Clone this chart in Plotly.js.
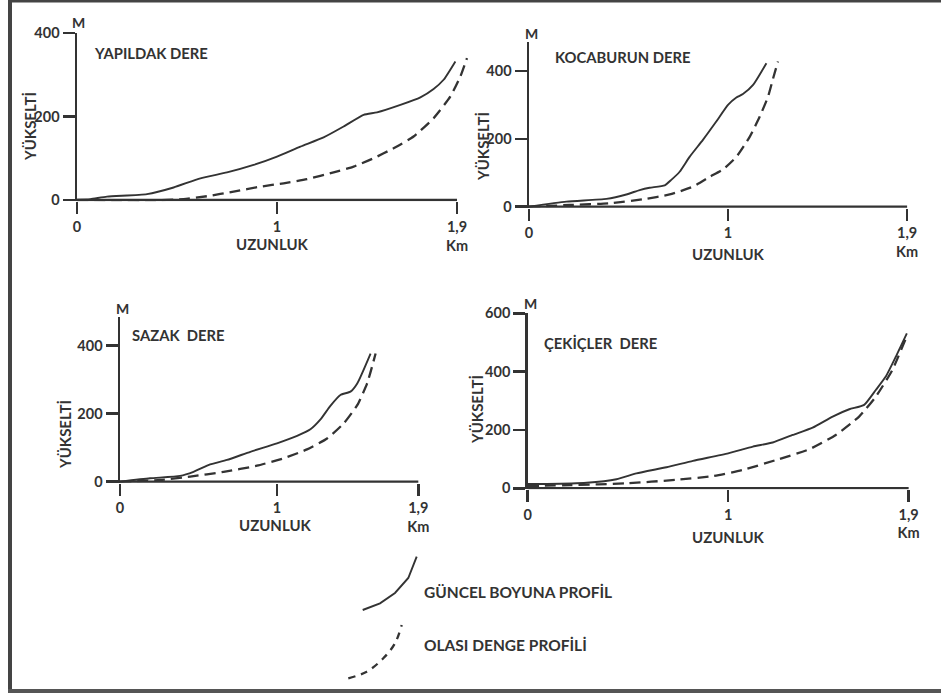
<!DOCTYPE html>
<html>
<head>
<meta charset="utf-8">
<script src="https://cdn.plot.ly/plotly-3.0.1.min.js"></script>
<style>html,body{margin:0;padding:0;background:#fff;}#chart{width:941px;height:693px;}</style>
</head>
<body>
<div id="chart"></div>
<script>
// ---------- DATA (km, m) ----------
const yapildakSolidX = [0, 0.067, 0.15, 0.35, 0.483, 0.617, 0.75, 0.883, 1.0, 1.117, 1.233, 1.333, 1.433, 1.5, 1.617, 1.717, 1.783, 1.833, 1.892];
const yapildakSolidY = [0, 2, 8, 14, 30, 52, 66, 84, 104, 128, 150, 176, 204, 210, 228, 246, 266, 288, 332];
const yapildakDashX = [0, 0.2, 0.367, 0.533, 0.65, 0.783, 0.917, 1.033, 1.15, 1.283, 1.383, 1.483, 1.583, 1.683, 1.783, 1.867, 1.917, 1.95];
const yapildakDashY = [0, -1, -1, 2, 9, 20, 32, 40, 50, 66, 80, 100, 124, 152, 196, 248, 296, 340];

const kocaburunSolidX = [0, 0.188, 0.389, 0.489, 0.556, 0.606, 0.682, 0.715, 0.757, 0.807, 0.874, 0.941, 1.0, 1.042, 1.075, 1.126, 1.193];
const kocaburunSolidY = [0, 15, 23, 36, 49, 56, 63, 79, 103, 147, 197, 251, 300, 322, 332, 359, 423];
const kocaburunDashX = [0, 0.204, 0.405, 0.573, 0.707, 0.824, 0.908, 0.975, 1.042, 1.109, 1.159, 1.201, 1.229, 1.251];
const kocaburunDashY = [0, 5, 10, 22, 36, 59, 88, 110, 147, 206, 265, 324, 383, 428];

const sazakSolidX = [0, 0.191, 0.383, 0.468, 0.574, 0.681, 0.83, 1.0, 1.128, 1.213, 1.277, 1.34, 1.404, 1.468, 1.511, 1.596];
const sazakSolidY = [0, 10, 17, 29, 51, 64, 88, 113, 135, 154, 183, 223, 255, 265, 289, 377];
const sazakDashX = [0, 0.255, 0.447, 0.66, 0.872, 1.043, 1.191, 1.319, 1.426, 1.511, 1.574, 1.628];
const sazakDashY = [0, 5, 15, 29, 47, 69, 95, 127, 172, 225, 289, 377];

const cekiclerSolidX = [0, 0.095, 0.294, 0.443, 0.542, 0.692, 0.824, 1.0, 1.123, 1.222, 1.322, 1.421, 1.521, 1.604, 1.678, 1.736, 1.786, 1.836, 1.891];
const cekiclerSolidY = [15, 15, 19, 31, 51, 72, 94, 120, 143, 157, 183, 208, 246, 271, 286, 337, 383, 451, 531];
const cekiclerDashX = [0, 0.211, 0.493, 0.741, 0.924, 1.073, 1.239, 1.405, 1.537, 1.653, 1.736, 1.819, 1.886];
const cekiclerDashY = [8, 11, 17, 29, 42, 63, 97, 134, 183, 246, 314, 406, 514];

// legend sample strokes (in page pixel space of a hidden axis)
const legendSolidX = [362.7, 380, 395, 408.3, 416.7];
const legendSolidY = [610, 603.3, 593, 578, 556.7];
const legendDashX = [348.3, 366.7, 383.3, 395, 401.7];
const legendDashY = [678.3, 671.7, 658.3, 643.3, 625];

const panelTitles = ["YAPILDAK DERE", "KOCABURUN DERE", "SAZAK&nbsp; DERE", "ÇEKİÇLER&nbsp; DERE"];
const xTickVals = [0, 1, 1.9];
const xTickText = ["0", "1", "1,9<br>Km"];
const yTickVals14 = [0, 200, 400];
const yTickVals4 = [0, 200, 400, 600];
const xAxisLabel = "UZUNLUK";
const yAxisLabel = "YÜKSELTİ";
const unitLabel = "M";
const legendLabels = ["GÜNCEL BOYUNA PROFİL", "OLASI DENGE PROFİLİ"];

// ---------- LAYOUT ----------
const W = 941, H = 693;
const INK = '#333333';
const FONT = 'Lato, "DejaVu Sans", sans-serif';

function domains(x0px, kmPx, xMax, y0px, mPx, yMin, yMax) {
  return {
    x: [x0px / W, (x0px + kmPx * xMax) / W],
    y: [1 - (y0px - yMin * mPx) / H, 1 - (y0px - yMax * mPx) / H],
    xr: [0, xMax], yr: [yMin, yMax]
  };
}
const panels = [
  domains(77, 200, 2.0, 200, 167 / 400, -3, 400),
  domains(529, 199, 1.95, 206.7, 135.7 / 400, -3, 486),
  domains(120, 157, 1.95, 481.7, 136 / 400, -3, 485),
  domains(527.7, 200.5, 1.93, 488.3, 175 / 600, -3, 600)
];

const solid = {color: INK, width: 1.9, shape: 'spline', smoothing: 0.5};
const dashed = {color: INK, width: 2.3, dash: '11px,6px', shape: 'spline', smoothing: 0.5};

const series = [
  [yapildakSolidX, yapildakSolidY, yapildakDashX, yapildakDashY],
  [kocaburunSolidX, kocaburunSolidY, kocaburunDashX, kocaburunDashY],
  [sazakSolidX, sazakSolidY, sazakDashX, sazakDashY],
  [cekiclerSolidX, cekiclerSolidY, cekiclerDashX, cekiclerDashY]
];

const traces = [];
series.forEach((s, i) => {
  const xa = 'x' + (i ? i + 1 : ''), ya = 'y' + (i ? i + 1 : '');
  traces.push({x: s[0], y: s[1], type: 'scatter', mode: 'lines', line: solid, xaxis: xa, yaxis: ya, hoverinfo: 'skip'});
  traces.push({x: s[2], y: s[3], type: 'scatter', mode: 'lines', line: dashed, xaxis: xa, yaxis: ya, hoverinfo: 'skip'});
});
traces.push({x: legendSolidX, y: legendSolidY, type: 'scatter', mode: 'lines', line: {color: INK, width: 1.9}, xaxis: 'x5', yaxis: 'y5', hoverinfo: 'skip'});
traces.push({x: legendDashX, y: legendDashY, type: 'scatter', mode: 'lines', line: {color: INK, width: 2.3, dash: '7px,6px', shape: 'spline'}, xaxis: 'x5', yaxis: 'y5', hoverinfo: 'skip'});

const tickFont = {family: FONT, size: 14.5, color: INK, weight: 'bold'};
const layout = {
  width: W, height: H,
  margin: {l: 0, r: 0, t: 0, b: 0},
  paper_bgcolor: '#fff', plot_bgcolor: 'rgba(0,0,0,0)',
  showlegend: false,
  annotations: [], shapes: []
};

const labelPos = [
  {m: [78, 22], t: [92, 53], ux: [272, 244], yk: [30, 127]},
  {m: [531, 33], t: [553, 57], ux: [728, 254], yk: [483, 147]},
  {m: [122, 308], t: [130, 335], ux: [275, 525], yk: [65, 435]},
  {m: [530, 303], t: [542, 343], ux: [728, 537], yk: [477, 410]}
];

panels.forEach((p, i) => {
  const n = i ? i + 1 : '';
  layout['xaxis' + n] = {
    domain: p.x, range: p.xr, anchor: 'y' + n,
    showline: false, zeroline: false, showgrid: false,
    ticks: 'outside', ticklen: 12, tickwidth: 2.5, tickcolor: INK,
    tickvals: xTickVals, ticktext: xTickText, tickfont: tickFont,
    fixedrange: true
  };
  layout['yaxis' + n] = {
    domain: p.y, range: p.yr, anchor: 'x' + n,
    showline: true, linewidth: 2.5, linecolor: INK,
    zeroline: false, showgrid: false,
    ticks: 'outside', ticklen: 12, tickwidth: 2.5, tickcolor: INK,
    tickvals: i === 3 ? yTickVals4 : yTickVals14, tickfont: tickFont, ticklabelstandoff: 0,
    fixedrange: true
  };
  layout.shapes.push({type: 'line', xref: 'x' + n, yref: 'y' + n, x0: 0, x1: 1.9, y0: 0, y1: 0, line: {color: INK, width: 2.5}});
  const L = labelPos[i];
  const bf = (sz) => ({family: FONT, size: sz, color: INK, weight: 'bold'});
  layout.annotations.push(
    {xref: 'paper', yref: 'paper', x: L.m[0] / W, y: 1 - L.m[1] / H, text: unitLabel, showarrow: false, xanchor: 'center', yanchor: 'middle', font: bf(14)},
    {xref: 'paper', yref: 'paper', x: L.t[0] / W, y: 1 - L.t[1] / H, text: panelTitles[i], showarrow: false, xanchor: 'left', yanchor: 'middle', font: bf(14.8)},
    {xref: 'paper', yref: 'paper', x: L.ux[0] / W, y: 1 - L.ux[1] / H, text: xAxisLabel, showarrow: false, xanchor: 'center', yanchor: 'middle', font: bf(15)},
    {xref: 'paper', yref: 'paper', x: L.yk[0] / W, y: 1 - L.yk[1] / H, text: yAxisLabel, showarrow: false, xanchor: 'center', yanchor: 'middle', textangle: -90, font: bf(15)}
  );
});

layout.xaxis5 = {domain: [0, 1], range: [0, W], visible: false, fixedrange: true, anchor: 'y5'};
layout.yaxis5 = {domain: [0, 1], range: [H, 0], visible: false, fixedrange: true, anchor: 'x5'};

layout.annotations.push(
  {xref: 'paper', yref: 'paper', x: 422 / W, y: 1 - 592 / H, text: legendLabels[0], showarrow: false, xanchor: 'left', yanchor: 'middle', font: {family: FONT, size: 15.5, color: INK, weight: 'bold'}},
  {xref: 'paper', yref: 'paper', x: 422 / W, y: 1 - 645 / H, text: legendLabels[1], showarrow: false, xanchor: 'left', yanchor: 'middle', font: {family: FONT, size: 15.5, color: INK, weight: 'bold'}}
);

// frame
layout.shapes.push(
  {type: 'line', xref: 'paper', yref: 'paper', x0: 10 / W, x1: 10 / W, y0: 0, y1: 1, line: {color: '#444', width: 4}},
  {type: 'line', xref: 'paper', yref: 'paper', x0: 8 / W, x1: 1, y0: 1 - 1 / H, y1: 1 - 1 / H, line: {color: '#444', width: 3}},
  {type: 'line', xref: 'paper', yref: 'paper', x0: 8 / W, x1: 1, y0: 1 - 691 / H, y1: 1 - 691 / H, line: {color: '#555', width: 4}}
);

Plotly.newPlot('chart', traces, layout, {displayModeBar: false, staticPlot: true});
</script>
</body>
</html>
